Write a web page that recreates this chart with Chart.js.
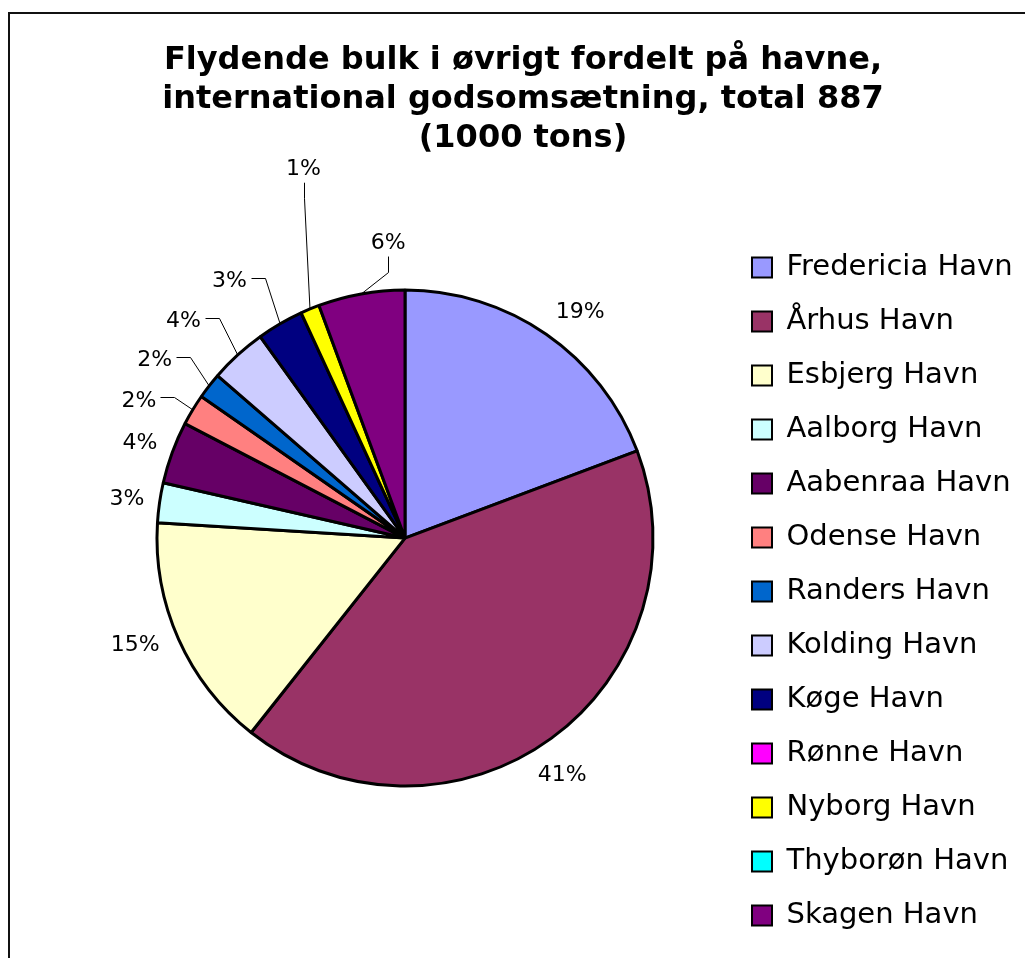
<!DOCTYPE html>
<html>
<head>
<meta charset="utf-8">
<script src="https://cdn.jsdelivr.net/npm/chart.js@4.4.0/dist/chart.umd.min.js"></script>
<style>
    html, body { margin: 0; padding: 0; background: #fff; overflow: hidden; }
</style>
</head>
<body>
<canvas id="pieChart" width="1025" height="958"></canvas>
<script>
// Flydende bulk i øvrigt, international godsomsætning (1000 tons)
const havne = [
    'Fredericia Havn', 'Århus Havn', 'Esbjerg Havn', 'Aalborg Havn', 'Aabenraa Havn',
    'Odense Havn', 'Randers Havn', 'Kolding Havn', 'Køge Havn', 'Rønne Havn',
    'Nyborg Havn', 'Thyborøn Havn', 'Skagen Havn'
];
const tons = [171, 367, 136, 23, 36, 18, 15, 33, 27, 0, 11, 0, 50];
const titleLines = [
    'Flydende bulk i øvrigt fordelt på havne,',
    'international godsomsætning, total 887',
    '(1000 tons)'
];

// Excel style palette
const farver = [
    '#9999FF', '#993366', '#FFFFCC', '#CCFFFF', '#660066',
    '#FF8080', '#0066CC', '#CCCCFF', '#000080', '#FF00FF',
    '#FFFF00', '#00FFFF', '#800080'
];

// where each percent label sits: [angle shift (deg), distance past the rim (px), leader: 0 none, 1 side, 2 below]
const labelPlace = [
    [2.9, 39, 0], [2.4, 35, 0], [2.6, 42, 0], [0.1, 33, 0], [-0.2, 34, 0],
    [-3.6, 52, 1], [-2.2, 60, 1], [-3.0, 63, 1], [-4.0, 64, 1], null,
    [7.2, 136, 2], null, [6.9, 49, 2]
];

Chart.defaults.font.family = 'Verdana, "DejaVu Sans", sans-serif';
Chart.defaults.color = '#000';

// percent labels with leader lines, like the Excel original
const pctLabels = {
    id: 'pctLabels',
    afterDatasetsDraw(chart) {
        const ctx = chart.ctx;
        const meta = chart.getDatasetMeta(0);
        const total = tons.reduce((a, b) => a + b, 0);
        ctx.save();
        ctx.font = '22px Verdana, "DejaVu Sans", sans-serif';
        ctx.fillStyle = '#000';
        ctx.strokeStyle = '#000';
        ctx.lineWidth = 1;
        ctx.textAlign = 'center';
        ctx.textBaseline = 'middle';
        meta.data.forEach((arc, i) => {
            const v = tons[i];
            if (!v || !labelPlace[i]) return;
            const p = arc.getProps(['x', 'y', 'startAngle', 'endAngle', 'outerRadius'], true);
            const mid = (p.startAngle + p.endAngle) / 2;
            const [shift, extra, leader] = labelPlace[i];
            const a = mid + shift * Math.PI / 180;
            const cx = p.x + (p.outerRadius + extra) * Math.cos(a);
            const cy = p.y + (p.outerRadius + extra) * Math.sin(a);
            const text = Math.round(v / total * 100) + '%';
            const w = ctx.measureText(text).width;
            ctx.fillText(text, cx, cy + 1.5);

            if (leader) {
                const ex = p.x + p.outerRadius * Math.cos(mid);
                const ey = p.y + p.outerRadius * Math.sin(mid);
                ctx.beginPath();
                if (leader === 1) {
                    const sx = Math.round(cx + w / 2 + 4) + 0.5;
                    const sy = Math.round(cy - 2) + 0.5;
                    ctx.moveTo(sx, sy);
                    ctx.lineTo(sx + 14, sy);
                } else {
                    const sx = Math.round(cx) + 0.5;
                    const sy = cy + 15;
                    ctx.moveTo(sx, sy);
                    ctx.lineTo(sx, sy + 16);
                }
                ctx.lineTo(ex, ey);
                ctx.stroke();
            }
        });
        ctx.restore();
    }
};

// legend box is kept narrow for the layout; let its text run to the canvas edge instead of clipping
const legendRoom = {
    id: 'legendRoom',
    beforeDraw(chart) {
        const lg = chart.legend;
        lg.right = chart.width;
        lg.width = lg.right - lg.left;
    }
};

// thin frame round the chart
const frame = {
    id: 'frame',
    afterDraw(chart) {
        const ctx = chart.ctx;
        ctx.save();
        ctx.strokeStyle = '#111';
        ctx.lineWidth = 2;
        ctx.strokeRect(9, 13, 2000, 2000);
        ctx.restore();
    }
};

const pieCtx = document.getElementById('pieChart').getContext('2d');
new Chart(pieCtx, {
    type: 'pie',
    data: {
        labels: havne,
        datasets: [{
            data: tons,
            backgroundColor: farver,
            borderColor: '#000',
            borderWidth: 3,
            radius: 248
        }]
    },
    options: {
        responsive: false,
        animation: false,
        layout: {
            padding: { top: 0, left: 83, right: 62, bottom: 0 }
        },
        plugins: {
            title: {
                display: true,
                text: titleLines,
                color: '#000',
                font: { size: 32, weight: 'bold', lineHeight: 1.22 },
                padding: { top: 41, bottom: -40 }
            },
            legend: {
                position: 'right',
                align: 'start',
                maxWidth: 236,
                // empty title only pushes the entries down
                title: { display: true, text: '', font: { size: 20, lineHeight: 1 }, padding: { top: 208, bottom: 0 } },
                labels: {
                    color: '#000',
                    font: { size: 29 },
                    boxWidth: 20,
                    boxHeight: 20,
                    padding: 25,
                    generateLabels(chart) {
                        const items = Chart.overrides.doughnut.plugins.legend.labels.generateLabels(chart);
                        items.forEach(item => { item.lineWidth = 2; });
                        return items;
                    }
                }
            },
            tooltip: { enabled: false }
        }
    },
    plugins: [pctLabels, legendRoom, frame]
});
</script>
</body>
</html>
